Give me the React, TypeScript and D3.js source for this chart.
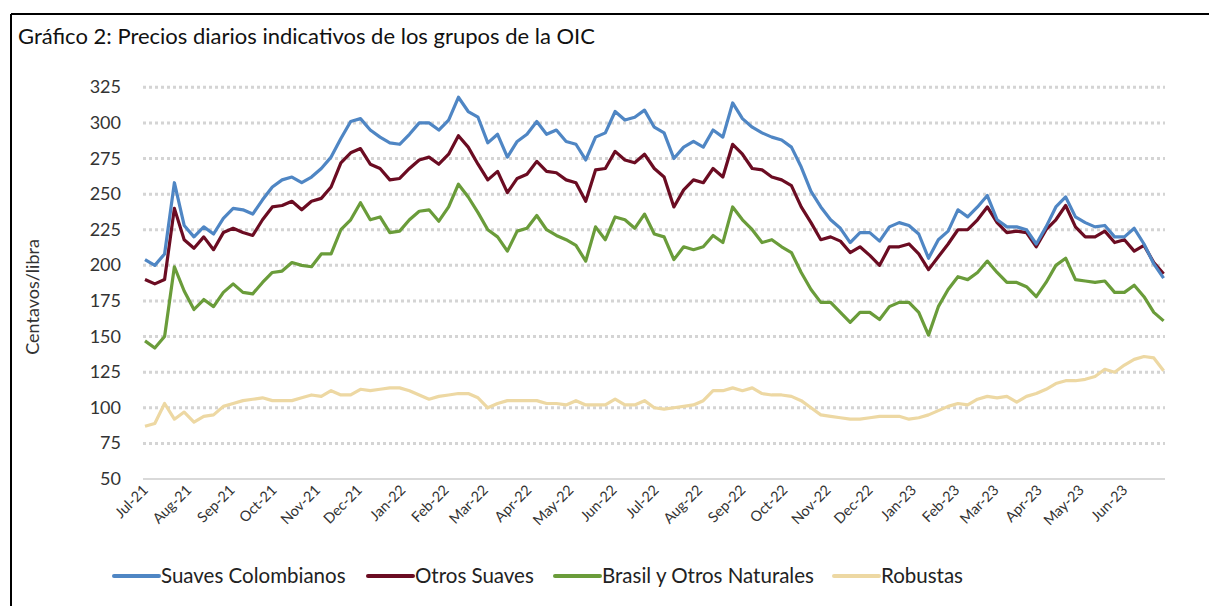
import React from "react";
import * as d3 from "d3";

// Weekly readings from 1 Jul 2021 (step 7 days), 105 points
const startDate = new Date(2021, 6, 1);
const endDate = new Date(2023, 5, 30);

const suavesColombianos = [
  204, 200, 208, 258, 228, 220, 227, 222, 233, 240, 239, 236, 246, 255, 260, 262, 258, 262, 268, 276,
  289, 301, 303, 295, 290, 286, 285, 292, 300, 300, 295, 302, 318, 308, 304, 286, 292, 276, 287, 292,
  301, 292, 295, 287, 285, 274, 290, 293, 308, 302, 304, 309, 297, 293, 275, 283, 287, 283, 295, 290,
  314, 303, 297, 293, 290, 288, 283, 269, 252, 241, 232, 226, 216, 223, 223, 217, 227, 230, 228, 222,
  205, 218, 224, 239, 234, 241, 249, 232, 227, 227, 225, 215, 227, 241, 248, 234, 230, 227, 228, 220,
  220, 226, 215, 201, 191,
];
const otrosSuaves = [
  190, 187, 190, 240, 218, 212, 220, 211, 223, 226, 223, 221, 232, 241, 242, 245, 239, 245, 247, 255,
  272, 279, 282, 271, 268, 260, 261, 268, 274, 276, 271, 278, 291, 283, 271, 260, 266, 251, 261, 264,
  273, 266, 265, 260, 258, 245, 267, 268, 280, 274, 272, 278, 268, 262, 241, 253, 260, 258, 268, 262,
  285, 278, 268, 267, 262, 260, 256, 241, 230, 218, 220, 217, 209, 213, 207, 200, 213, 213, 215, 208,
  197, 206, 215, 225, 225, 232, 241, 230, 223, 224, 223, 213, 225, 232, 242, 227, 220, 220, 224, 216,
  218, 210, 214, 202, 194,
];
const brasilOtrosNaturales = [
  147, 142, 150, 199, 182, 169, 176, 171, 181, 187, 181, 180, 188, 195, 196, 202, 200, 199, 208, 208,
  225, 232, 244, 232, 234, 223, 224, 232, 238, 239, 231, 241, 257, 248, 237, 225, 220, 210, 224, 226,
  235, 225, 221, 218, 214, 203, 227, 218, 234, 232, 226, 236, 222, 220, 204, 213, 211, 213, 221, 216,
  241, 232, 225, 216, 218, 213, 209, 195, 183, 174, 174, 167, 160, 167, 167, 162, 171, 174, 174, 167,
  151, 171, 183, 192, 190, 195, 203, 195, 188, 188, 185, 178, 188, 200, 205, 190, 189, 188, 189, 181,
  181, 186, 178, 167, 161,
];
const robustas = [
  87, 89, 103, 92, 97, 90, 94, 95, 101, 103, 105, 106, 107, 105, 105, 105, 107, 109, 108, 112,
  109, 109, 113, 112, 113, 114, 114, 112, 109, 106, 108, 109, 110, 110, 107, 100, 103, 105, 105, 105,
  105, 103, 103, 102, 105, 102, 102, 102, 106, 102, 102, 105, 100, 99, 100, 101, 102, 105, 112, 112,
  114, 112, 114, 110, 109, 109, 108, 105, 100, 95, 94, 93, 92, 92, 93, 94, 94, 94, 92, 93,
  95, 98, 101, 103, 102, 106, 108, 107, 108, 104, 108, 110, 113, 117, 119, 119, 120, 122, 127, 125,
  130, 134, 136, 135, 126,
];

const seriesNames = ["Suaves Colombianos", "Otros Suaves", "Brasil y Otros Naturales", "Robustas"];
const seriesColors = ["#4F86C4", "#6B0C22", "#6A9C3A", "#EDD8A3"];
const yTicks = [50, 75, 100, 125, 150, 175, 200, 225, 250, 275, 300, 325];
const title = "Gráfico 2: Precios diarios indicativos de los grupos de la OIC";
const yTitle = "Centavos/libra";

const W = 1209;
const H = 606;
const FONT = "Lato, 'Open Sans', sans-serif";

export default function App() {
  const x = d3.scaleTime().domain([startDate, endDate]).range([145, 1165]);
  const y = d3.scaleLinear().domain([50, 325]).range([479, 87.3]);
  const dates = suavesColombianos.map((_, i) => d3.timeDay.offset(startDate, 7 * i));
  const all = [suavesColombianos, otrosSuaves, brasilOtrosNaturales, robustas];
  const line = d3
    .line<number>()
    .x((_, i) => x(dates[i]))
    .y((d) => y(d));
  const months = d3.timeMonth.range(startDate, d3.timeDay.offset(endDate, 1));
  const fmt = d3.timeFormat("%b-%y");
  const legendX = [114, 368, 555, 834];

  return (
    <svg
      width={W}
      height={H}
      style={{ position: "absolute", left: 0, top: 0, background: "#fff" }}
      fontFamily={FONT}
    >
      <rect x={0} y={0} width={W} height={H} fill="#fff" />
      <line x1={11} y1={14} x2={W} y2={14} stroke="#000" strokeWidth={2} />
      <line x1={11} y1={14} x2={11} y2={H} stroke="#000" strokeWidth={2} />
      <text x={18} y={44} fontSize={22} fill="#111">
        {title}
      </text>

      {yTicks.map((t) => (
        <g key={t}>
          {t === 50 ? (
            <line x1={143} x2={1165} y1={y(t)} y2={y(t)} stroke="#D9D9D9" strokeWidth={2} />
          ) : (
            <line
              x1={143}
              x2={1165}
              y1={y(t)}
              y2={y(t)}
              stroke="#D4D4D4"
              strokeWidth={3}
              strokeDasharray="3,3"
            />
          )}
          <text x={121} y={y(t) + 6} fontSize={18} textAnchor="end" fill="#333">
            {t}
          </text>
        </g>
      ))}

      <text
        transform={`translate(39,${297}) rotate(-90)`}
        fontSize={18}
        textAnchor="middle"
        fill="#333"
      >
        {yTitle}
      </text>

      {months.map((m) => (
        <text
          key={m.getTime()}
          transform={`translate(${x(m) + 4},${491}) rotate(-45)`}
          fontSize={14.5}
          textAnchor="end"
          fill="#333"
        >
          {fmt(m)}
        </text>
      ))}

      {all
        .slice()
        .reverse()
        .map((s, k) => {
          const idx = all.length - 1 - k;
          return (
            <path
              key={idx}
              d={line(s) || ""}
              fill="none"
              stroke={seriesColors[idx]}
              strokeWidth={3.2}
              strokeLinejoin="round"
            />
          );
        })}

      {seriesNames.map((n, i) => (
        <g key={n}>
          <line
            x1={legendX[i]}
            x2={legendX[i] + 45}
            y1={576}
            y2={576}
            stroke={seriesColors[i]}
            strokeWidth={4}
            strokeLinecap="round"
          />
          <text x={legendX[i] + 47} y={582.5} fontSize={20.5} fill="#222">
            {n}
          </text>
        </g>
      ))}
    </svg>
  );
}
